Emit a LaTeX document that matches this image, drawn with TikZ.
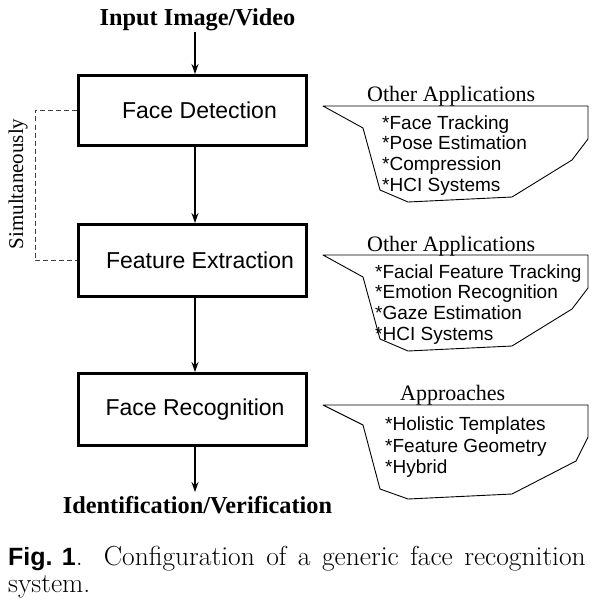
\documentclass[tikz,border=0pt]{standalone}
\usepackage{fontspec}
\newfontfamily\timesf{Liberation Serif}
\newfontfamily\arialf{Liberation Sans}
\usetikzlibrary{arrows.meta}
\begin{document}
\begin{tikzpicture}[x=1pt,y=-1pt,
  box/.style={draw,line width=3pt,minimum width=228pt,minimum height=72pt,inner sep=0pt,
    font=\arialf\fontsize{23}{27}\selectfont},
  arr/.style={line width=1.8pt,-{Stealth[length=10pt,width=7pt]}},
  bigtxt/.style={inner sep=0pt,anchor=base,font=\timesf\bfseries\fontsize{24.3}{28}\selectfont},
  ctitle/.style={inner sep=0pt,anchor=base west,font=\timesf\fontsize{22}{26}\selectfont},
  citem/.style={inner sep=0pt,anchor=base west,font=\arialf\fontsize{19}{22}\selectfont},
  callout/.style={draw,line width=0.9pt,line join=round},
  simul/.style={draw=black!75,line width=1pt,dash pattern=on 5pt off 3pt},
  captxt/.style={inner sep=0pt,font=\fontsize{27.5}{32}\selectfont}
]
\useasboundingbox (0,0) rectangle (604,607);

% main boxes
\node[box,minimum height=70pt] (fd) at (192.5,110.5) {\hspace*{14pt}Face Detection};
\node[box] (fe) at (192,260.5) {\hspace*{16pt}Feature Extraction};
\node[box] (fr) at (192,409.5) {\hspace*{6pt}Face Recognition};

% input / output texts
\node[bigtxt] (in) at (197.5,26) {Input Image/Video};
\node[bigtxt] (out) at (197.5,513) {Identification/Verification};

% arrows
\draw[arr] ([xshift=2.5pt]fd.north |- 0,32) -- ([xshift=2.5pt]fd.north);
\draw[arr] ([xshift=2.5pt]fd.south) -- ([xshift=3pt]fe.north);
\draw[arr] ([xshift=3pt]fe.south) -- ([xshift=3pt]fr.north);
\draw[arr] ([xshift=3pt]fr.south) -- ([xshift=3pt]fr.south |- 0,492);

% simultaneously bracket
\draw[simul] (fd.west) -- ++(-42,0) coordinate (sb) |- (fe.west);
\node[inner sep=0pt,rotate=90,font=\timesf\fontsize{21}{25}\selectfont] (sim) at (18,184) {Simultaneously};

% callout 1
\draw[callout] (323,106) -- (588,106) -- (588,139) -- (572,160) -- (512,197) -- (408,202) -- (380,190) -- (363,128) -- cycle;
\node[ctitle] (t1) at (367,102) {Other Applications};
\node[citem] (a1) at (382,129) {*Face Tracking};
\node[citem] (a2) at (382,149.5) {*Pose Estimation};
\node[citem] (a3) at (382,170) {*Compression};
\node[citem] (a4) at (382,191.5) {*HCI Systems};

% callout 2
\draw[callout] (323,255) -- (588,255) -- (588,288) -- (572,309) -- (512,346) -- (408,351) -- (380,339) -- (363,277) -- cycle;
\node[ctitle] (t2) at (367,251) {Other Applications};
\node[citem] (b1) at (375,278) {*Facial Feature Tracking};
\node[citem] (b2) at (375,298.5) {*Emotion Recognition};
\node[citem] (b3) at (375,319) {*Gaze Estimation};
\node[citem] (b4) at (375,340.5) {*HCI Systems};

% callout 3
\draw[callout] (323,405) -- (588,405) -- (588,437) -- (576,461) -- (512,494) -- (408,499) -- (380,489) -- (363,425) -- cycle;
\node[ctitle] (t3) at (400,400) {Approaches};
\node[citem] (c1) at (385,430) {*Holistic Templates};
\node[citem] (c2) at (385,452) {*Feature Geometry};
\node[citem] (c3) at (385,473) {*Hybrid};

% caption
\node[captxt,anchor=base west] (fig) at (8,565) {{\arialf\bfseries\fontsize{25}{30}\selectfont Fig. 1}.};
\node[captxt,anchor=base east] (cap1) at (586,565) {\makebox[482pt][s]{Configuration of a generic face recognition}};
\node[captxt,anchor=base west] (cap2) at (8,592) {system.};
\end{tikzpicture}
\end{document}
